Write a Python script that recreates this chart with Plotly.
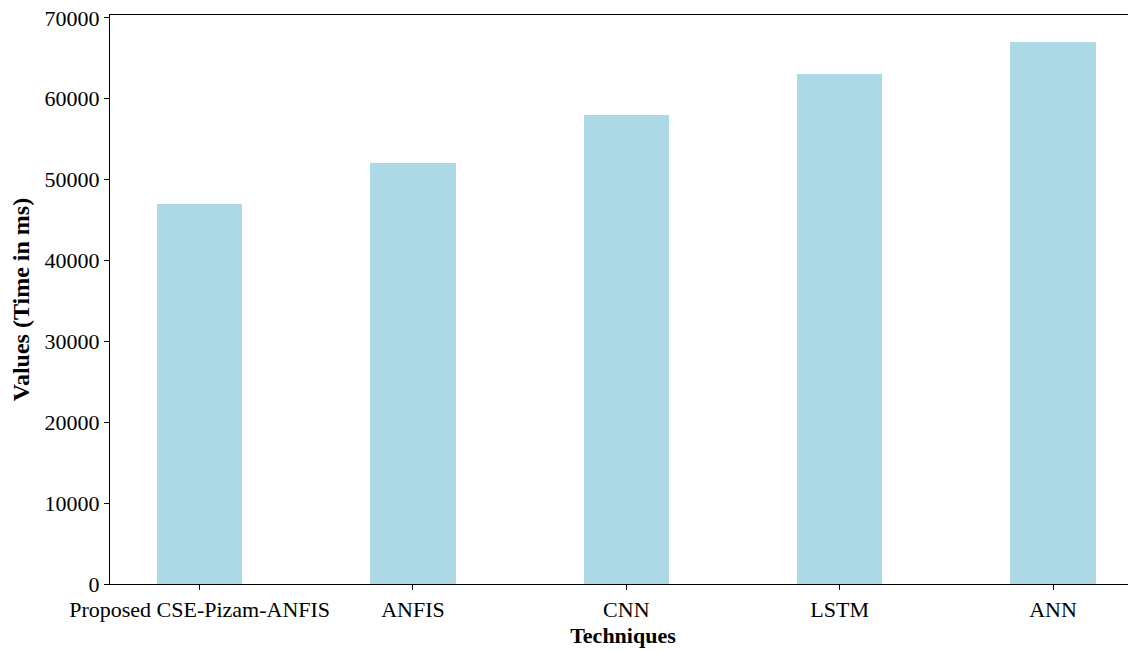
import plotly.graph_objects as go

techniques = ["Proposed CSE-Pizam-ANFIS", "ANFIS", "CNN", "LSTM", "ANN"]
values = [47000, 52000, 58000, 63000, 67000]
y_ticks = [0, 10000, 20000, 30000, 40000, 50000, 60000, 70000]

fig = go.Figure(go.Bar(
    x=list(range(len(techniques))), y=values, width=0.4,
    marker=dict(color="#ADD8E6", line=dict(width=0)),
))

font = dict(family="Liberation Serif", size=22, color="black")
fig.update_layout(
    width=1128, height=642,
    margin=dict(l=102, r=0, t=7, b=66),
    plot_bgcolor="white", paper_bgcolor="white",
    font=font, showlegend=False, bargap=0,
)
fig.update_xaxes(
    range=[-0.42, 4.389], tickvals=list(range(len(techniques))), ticktext=techniques,
    showline=True, linecolor="black", linewidth=1.2, mirror=True,
    ticks="outside", ticklen=5, tickcolor="black", showgrid=False, zeroline=False,
    automargin=False, ticklabeloverflow="allow",
    title=dict(text="<b>Techniques</b>", font=dict(family="Liberation Serif", size=22), standoff=7),
    tickfont=font,
)
fig.update_yaxes(
    range=[0, 70350], tickvals=y_ticks, ticktext=[str(v) for v in y_ticks],
    showline=True, linecolor="black", linewidth=1.2,
    ticks="outside", ticklen=5, tickcolor="black", showgrid=False, zeroline=False,
    automargin=False, ticklabeloverflow="allow",
    title=dict(text="<b>Values (Time in ms)</b>", font=dict(family="Liberation Serif", size=24), standoff=12),
    tickfont=font,
)
fig.write_html("out.html")
